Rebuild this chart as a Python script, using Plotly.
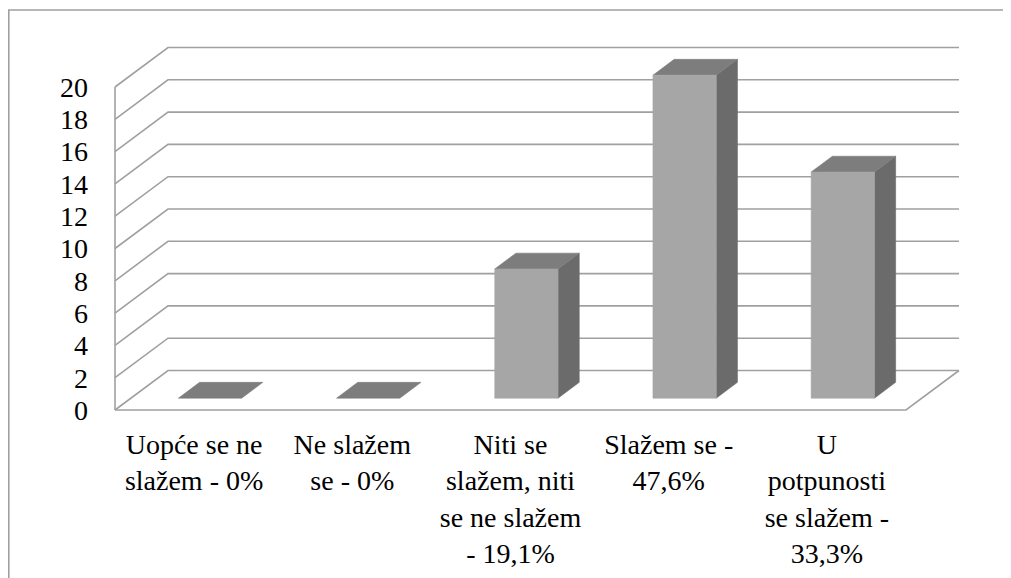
import plotly.graph_objects as go

# ---- data ----
categories = [
    "Uopće se ne<br>slažem - 0%",
    "Ne slažem<br>se - 0%",
    "Niti se<br>slažem, niti<br>se ne slažem<br>- 19,1%",
    "Slažem se -<br>47,6%",
    "U<br>potpunosti<br>se slažem -<br>33,3%",
]
values = [0, 0, 8, 20, 14]
y_ticks = [0, 2, 4, 6, 8, 10, 12, 14, 16, 18, 20]

# ---- layout constants (pixels / projection) ----
# page body has an 8px default margin, so figure pixels = screen pixels - 8
OFF = 8
W, H = 1011 - OFF, 578 - OFF
PX_X = 158.2          # pixels per category unit
PX_Y = 16.15          # pixels per value unit
X0_PIX = 115 - OFF    # pixel of x=0 (front-left corner)
Y0_PIX = 410 - OFF    # pixel of y=0 (front floor)
L, R, T, B = 110 - OFF, 47, 40 - OFF, 162
DX = 53 / PX_X        # depth offset in x units
DY = 39.5 / PX_Y      # depth offset in y units
D_FRONT, D_BACK = 0.3, 0.7
BAR_W = 0.4
N = len(values)
YMAX = max(y_ticks)

plot_w = W - L - R
plot_h = H - T - B
x_lo = -(X0_PIX - L) / PX_X
x_hi = x_lo + plot_w / PX_X
y_lo = -((H - B) - Y0_PIX) / PX_Y
y_hi = y_lo + plot_h / PX_Y

GRID = "#a0a0a0"
FRONT = "#a6a6a6"
SIDE = "#6b6b6b"
TOP = "#7d7d7d"

fig = go.Figure()

# walls / gridlines
gx, gy = [], []
for v in y_ticks:
    gx += [0, DX, N + DX, None]
    gy += [v, v + DY, v + DY, None]
gx += [0, 0, None, 0, N, N + DX, None]
gy += [0, YMAX, None, 0, 0, DY, None]
fig.add_trace(go.Scatter(x=gx, y=gy, mode="lines",
                         line=dict(color=GRID, width=1.6),
                         hoverinfo="skip", showlegend=False))

# bar faces
side_x, side_y, top_x, top_y, fr_x, fr_y = [], [], [], [], [], []
for i, v in enumerate(values):
    c = i + 0.5
    xl = c - BAR_W / 2
    xr = c + BAR_W / 2
    fx, fy = D_FRONT * DX, D_FRONT * DY
    bx, by = D_BACK * DX, D_BACK * DY
    if v > 0:
        side_x += [xr + fx, xr + bx, xr + bx, xr + fx, xr + fx, None]
        side_y += [fy, by, v + by, v + fy, fy, None]
        fr_x += [xl + fx, xr + fx, xr + fx, xl + fx, xl + fx, None]
        fr_y += [fy, fy, v + fy, v + fy, fy, None]
    top_x += [xl + fx, xr + fx, xr + bx, xl + bx, xl + fx, None]
    top_y += [v + fy, v + fy, v + by, v + by, v + fy, None]

for xs, ys, col in [(side_x, side_y, SIDE), (top_x, top_y, TOP), (fr_x, fr_y, FRONT)]:
    fig.add_trace(go.Scatter(x=xs, y=ys, mode="lines", fill="toself",
                             fillcolor=col, line=dict(color=col, width=0.6),
                             hoverinfo="skip", showlegend=False))

FONT = dict(family="'Times New Roman', 'Liberation Serif', 'DejaVu Serif', serif",
            size=28, color="#000000")

fig.update_layout(
    width=W, height=H,
    margin=dict(l=L, r=R, t=T, b=B),
    paper_bgcolor="white", plot_bgcolor="white",
    font=FONT,
    showlegend=False,
    xaxis=dict(range=[x_lo, x_hi], showgrid=False, zeroline=False, showline=False,
               tickmode="array", tickvals=[i + 0.5 for i in range(N)], ticktext=categories,
               ticks="", ticklabelstandoff=9, tickfont=FONT, fixedrange=True,
               automargin=False),
    yaxis=dict(range=[y_lo, y_hi], showgrid=False, zeroline=False, showline=False,
               tickmode="array", tickvals=y_ticks, ticktext=[str(t) for t in y_ticks],
               ticks="", ticklabelstandoff=21, tickfont=FONT, fixedrange=True,
               automargin=False),
    shapes=[dict(type="rect", xref="paper", yref="paper",
                 x0=(0.8 - L) / plot_w, x1=(1020 - L) / plot_w,
                 y0=((H - B) - 590) / plot_h, y1=((H - B) - 2) / plot_h,
                 line=dict(color=GRID, width=1.6), fillcolor="rgba(0,0,0,0)", layer="below")],
)

fig.write_html("out.html")
